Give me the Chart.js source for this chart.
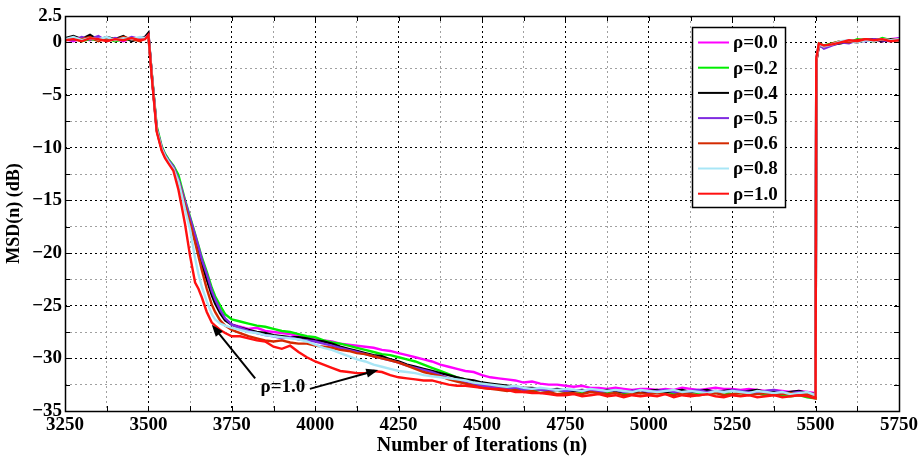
<!DOCTYPE html>
<html>
<head>
<meta charset="utf-8">
<script src="https://cdn.jsdelivr.net/npm/chart.js@4.4.1/dist/chart.umd.min.js"></script>
<style>
  html, body { margin: 0; padding: 0; background: #fff; }
  #wrap { width: 921px; height: 458px; }
</style>
</head>
<body>
<div id="wrap"><canvas id="msdChart" width="921" height="458"></canvas></div>
<script>
// iteration index for every sample (denser through the fast drop)
const iterations = [
  3250, 3275, 3300, 3325, 3350, 3375, 3400, 3425, 3450, 3475, 3490, 3500,
  3510, 3525, 3540, 3550, 3560, 3575, 3590, 3600, 3610, 3625, 3640, 3650, 3660, 3675, 3690, 3700, 3715, 3730, 3750,
  3775, 3800, 3825, 3850, 3875, 3900, 3925, 3950, 3975, 4000,
  4025, 4050, 4075, 4100, 4125, 4150, 4175, 4200, 4225, 4250,
  4275, 4300, 4325, 4350, 4375, 4400, 4425, 4450, 4475, 4500,
  4525, 4550, 4575, 4600, 4625, 4650, 4675, 4700, 4725, 4750,
  4775, 4800, 4825, 4850, 4875, 4900, 4925, 4950, 4975, 5000,
  5025, 5050, 5075, 5100, 5125, 5150, 5175, 5200, 5225, 5250,
  5275, 5300, 5325, 5350, 5375, 5400, 5425, 5450, 5475, 5500,
  5502, 5510, 5525, 5550, 5575, 5600, 5625, 5650, 5675, 5700, 5725, 5750
];

const seriesNames = ['ρ=0.0', 'ρ=0.2', 'ρ=0.4', 'ρ=0.5', 'ρ=0.6', 'ρ=0.8', 'ρ=1.0'];

const rho00 = [
  0.3, 0.1, 0.4, 0.2, 0.5, 0.2, 0.3, 0.1, 0.4, 0.3, 0.5, 0.8,
  -3.1, -8.2, -10.1, -10.8, -11.3, -11.9, -13.0, -14.2, -15.3, -16.9, -18.6, -19.7, -20.9, -22.4, -23.8, -24.6, -25.6, -26.3, -26.8,
  -27.0, -27.2, -27.1, -27.4, -27.5, -27.6, -27.7, -27.9, -28.0, -28.2,
  -28.3, -28.4, -28.6, -28.7, -28.8, -28.9, -29.0, -29.2, -29.3, -29.5,
  -29.7, -29.9, -30.1, -30.3, -30.6, -30.8, -31.0, -31.2, -31.3, -31.6,
  -31.8, -31.9, -32.0, -32.1, -32.3, -32.2, -32.4, -32.5, -32.5, -32.6,
  -32.7, -32.6, -32.8, -32.8, -32.9, -32.8, -32.9, -33.0, -32.9, -32.9,
  -33.0, -32.9, -33.0, -32.8, -32.9, -33.0, -32.9, -32.8, -32.9, -32.9,
  -33.0, -32.9, -33.0, -33.1, -33.0, -33.1, -33.2, -33.1, -33.2, -33.3,
  -1.6, -0.3, -0.4, -0.2, 0.0, 0.2, 0.1, 0.3, 0.2, 0.1, 0.3, 0.4
];
const rho02 = [
  0.2, 0.4, 0.1, 0.3, 0.2, 0.4, 0.1, 0.3, 0.2, 0.4, 0.4, 0.6,
  -2.9, -8.0, -9.9, -10.6, -11.1, -11.7, -12.6, -13.8, -15.0, -16.6, -18.2, -19.3, -20.4, -21.8, -23.3, -24.1, -25.0, -25.8, -26.3,
  -26.5, -26.7, -26.9, -27.0, -27.2, -27.4, -27.5, -27.7, -27.9, -28.0,
  -28.3, -28.5, -28.6, -28.8, -29.0, -29.2, -29.4, -29.6, -29.7, -29.9,
  -30.1, -30.3, -30.6, -30.9, -31.2, -31.5, -31.8, -32.0, -32.3, -32.5,
  -32.6, -32.7, -32.8, -32.9, -32.9, -33.0, -33.0, -33.1, -33.0, -33.2,
  -33.1, -33.2, -33.1, -33.3, -33.2, -33.1, -33.3, -33.2, -33.3, -33.2,
  -33.3, -33.2, -33.3, -33.4, -33.2, -33.3, -33.4, -33.3, -33.2, -33.4,
  -33.3, -33.4, -33.3, -33.5, -33.4, -33.5, -33.6, -33.5, -33.7, -33.8,
  -1.7, -0.1, -0.3, -0.1, 0.1, 0.0, 0.3, 0.2, 0.1, 0.4, 0.2, 0.3
];
const rho04 = [
  0.4, 0.6, 0.3, 0.7, 0.2, 0.5, 0.3, 0.6, 0.1, 0.4, 0.5, 0.9,
  -3.0, -8.3, -10.1, -10.8, -11.3, -11.9, -13.1, -14.2, -15.3, -16.9, -18.6, -19.8, -21.0, -22.5, -24.0, -24.8, -25.7, -26.4, -26.8,
  -27.1, -27.3, -27.5, -27.6, -27.8, -27.9, -28.0, -28.0, -28.1, -28.3,
  -28.4, -28.6, -28.9, -29.1, -29.3, -29.5, -29.7, -29.8, -30.1, -30.3,
  -30.6, -30.8, -31.0, -31.2, -31.4, -31.6, -31.8, -32.0, -32.1, -32.3,
  -32.4, -32.5, -32.6, -32.7, -32.8, -32.8, -32.9, -33.0, -32.9, -33.0,
  -33.1, -33.0, -33.1, -33.2, -33.0, -33.1, -33.2, -33.1, -33.3, -33.1,
  -33.0, -33.2, -33.1, -33.0, -33.2, -33.1, -33.0, -33.2, -33.1, -33.0,
  -33.2, -33.1, -33.0, -33.2, -33.1, -33.3, -33.2, -33.1, -33.3, -33.4,
  -1.8, -0.3, -0.5, -0.2, -0.1, 0.1, 0.0, 0.2, 0.3, 0.1, 0.3, 0.2
];
const rho05 = [
  0.3, 0.2, 0.5, 0.3, 0.6, 0.1, 0.4, 0.2, 0.5, 0.3, 0.4, 0.7,
  -3.0, -8.2, -10.0, -10.7, -11.2, -11.8, -13.0, -14.0, -15.1, -16.7, -18.3, -19.4, -20.6, -22.0, -23.6, -24.4, -25.4, -26.2, -26.8,
  -27.1, -27.4, -27.6, -27.8, -27.9, -28.1, -28.0, -28.2, -28.3, -28.4,
  -28.6, -28.8, -29.0, -29.2, -29.4, -29.6, -29.8, -30.0, -30.2, -30.4,
  -30.7, -30.9, -31.1, -31.3, -31.6, -31.9, -32.1, -32.3, -32.5, -32.6,
  -32.7, -32.8, -32.9, -32.8, -33.0, -32.9, -33.0, -33.1, -33.0, -33.1,
  -33.0, -33.1, -33.0, -33.2, -33.1, -33.0, -33.2, -33.1, -33.0, -33.2,
  -33.1, -33.0, -33.2, -33.3, -33.1, -33.0, -33.2, -33.1, -33.2, -33.0,
  -33.1, -33.2, -33.3, -33.1, -33.0, -33.2, -33.3, -33.2, -33.4, -33.5,
  -1.7, -0.2, -0.6, -0.3, 0.0, -0.1, 0.2, 0.1, 0.3, 0.2, 0.1, 0.4
];
const rho06 = [
  0.2, 0.4, 0.3, 0.5, 0.1, 0.4, 0.2, 0.5, 0.3, 0.1, 0.4, 0.5,
  -3.1, -8.4, -10.2, -10.9, -11.4, -12.0, -13.2, -14.3, -15.5, -17.2, -19.0, -20.3, -21.6, -23.4, -24.9, -25.6, -26.4, -26.9, -27.3,
  -27.6, -27.9, -28.1, -28.3, -28.4, -28.3, -28.5, -28.6, -28.6, -28.8,
  -28.9, -29.0, -29.2, -29.3, -29.5, -29.6, -29.8, -30.0, -30.2, -30.4,
  -30.7, -31.0, -31.3, -31.5, -31.7, -32.0, -32.2, -32.4, -32.6, -32.8,
  -32.9, -33.0, -33.1, -33.0, -33.2, -33.1, -33.3, -33.2, -33.4, -33.3,
  -33.3, -33.4, -33.2, -33.3, -33.4, -33.3, -33.5, -33.4, -33.3, -33.4,
  -33.3, -33.4, -33.5, -33.3, -33.4, -33.5, -33.4, -33.3, -33.5, -33.4,
  -33.3, -33.5, -33.4, -33.3, -33.5, -33.4, -33.3, -33.5, -33.4, -33.6,
  -1.9, -0.2, -0.4, -0.1, 0.1, 0.0, 0.2, 0.3, 0.1, 0.3, 0.2, 0.3
];
const rho08 = [
  0.3, 0.5, 0.2, 0.4, 0.3, 0.5, 0.2, 0.4, 0.3, 0.5, 0.4, 0.6,
  -3.0, -8.3, -10.1, -10.8, -11.3, -12.0, -13.2, -14.5, -15.9, -17.8, -20.5, -22.0, -23.2, -24.6, -25.8, -26.3, -26.7, -26.9, -27.1,
  -27.3, -27.5, -27.6, -27.8, -27.9, -28.0, -28.1, -28.2, -28.4, -28.7,
  -29.0, -29.2, -29.5, -29.8, -30.1, -30.3, -30.6, -30.8, -31.0, -31.2,
  -31.3, -31.4, -31.6, -31.7, -31.8, -31.9, -32.0, -32.1, -32.3, -32.4,
  -32.5, -32.6, -32.7, -32.6, -32.8, -32.9, -32.8, -32.9, -33.0, -32.9,
  -33.0, -33.1, -32.9, -33.0, -33.1, -33.0, -33.1, -33.2, -33.0, -33.1,
  -33.2, -33.1, -33.0, -33.2, -33.1, -33.2, -33.3, -33.1, -33.2, -33.1,
  -33.2, -33.3, -33.1, -33.2, -33.3, -33.2, -33.4, -33.3, -33.2, -33.5,
  -1.6, -0.2, -0.4, -0.2, 0.1, 0.2, 0.0, 0.2, 0.1, 0.3, 0.2, 0.3
];
const rho10 = [
  0.2, 0.3, 0.1, 0.4, 0.3, 0.1, 0.3, 0.2, 0.4, 0.2, 0.3, 0.7,
  -3.2, -8.5, -10.3, -11.0, -11.5, -12.2, -14.0, -15.6, -17.3, -20.3, -22.8, -23.4, -24.2, -25.6, -26.6, -26.9, -27.3, -27.6, -27.9,
  -27.9, -28.1, -28.3, -28.4, -28.9, -29.1, -28.8, -29.4, -29.9, -30.3,
  -30.6, -30.9, -31.2, -31.3, -31.4, -31.4, -31.2, -31.3, -31.6, -31.8,
  -31.9, -32.0, -32.1, -32.1, -32.3, -32.5, -32.6, -32.6, -32.7, -32.8,
  -32.9, -32.9, -33.0, -33.2, -33.2, -33.3, -33.3, -33.4, -33.5, -33.5,
  -33.4, -33.6, -33.5, -33.4, -33.6, -33.5, -33.7, -33.5, -33.6, -33.5,
  -33.6, -33.4, -33.7, -33.5, -33.6, -33.5, -33.4, -33.6, -33.7, -33.5,
  -33.6, -33.5, -33.7, -33.6, -33.5, -33.7, -33.6, -33.5, -33.6, -33.8,
  -1.5, -0.1, -0.3, -0.2, 0.0, 0.2, 0.1, 0.3, 0.2, 0.3, 0.1, 0.2
];

const seriesValues = [rho00, rho02, rho04, rho05, rho06, rho08, rho10];
const seriesColors = ['#ff00ff', '#00ee00', '#000000', '#7f2be0', '#d42a00', '#a8e6f6', '#ff1010'];

// x ticks every 125 (labels every 250), y ticks every 2.5 (labels every 5 + top)
const xMin = 3250, xMax = 5750, xStep = 125;
const yMin = -35, yMax = 2.5, yStep = 2.5;

// "ρ=1.0" note: text position and the two arrows, in data units
const noteLabel = 'ρ=1.0';
const noteAt = [3903, -32.7];
const noteArrows = [
  { from: [3820, -31.9], to: [3690, -26.8] },
  { from: [3984, -32.9], to: [4189, -31.1] }
];

const serif = '"Liberation Serif", "Times New Roman", serif';

const datasets = seriesValues.map((vals, k) => ({
  label: seriesNames[k],
  data: iterations.map((it, i) => ({ x: it, y: vals[i] })),
  borderColor: seriesColors[k],
  backgroundColor: seriesColors[k],
  borderWidth: 2.4,
  pointRadius: 0,
  tension: 0,
  order: seriesValues.length - k   // red last in list -> drawn on top
}));

function minus(v) {
  return String(v).replace('-', '\u2212');
}

const framePlugin = {
  id: 'frame',
  afterDatasetsDraw(chart) {
    const { ctx, chartArea: a, scales: { x, y } } = chart;
    ctx.save();
    ctx.strokeStyle = '#000';
    ctx.lineWidth = 1;
    ctx.beginPath();
    x.ticks.forEach(t => {
      const px = Math.round(x.getPixelForValue(t.value)) + 0.5;
      ctx.moveTo(px, a.bottom); ctx.lineTo(px, a.bottom - 5);
      ctx.moveTo(px, a.top); ctx.lineTo(px, a.top + 5);
    });
    y.ticks.forEach(t => {
      const py = Math.round(y.getPixelForValue(t.value)) + 0.5;
      ctx.moveTo(a.left, py); ctx.lineTo(a.left + 5, py);
      ctx.moveTo(a.right, py); ctx.lineTo(a.right - 5, py);
    });
    ctx.stroke();
    ctx.lineWidth = 1.5;
    ctx.strokeRect(Math.round(a.left) + 0.5, Math.round(a.top) + 0.5,
                   Math.round(a.right - a.left), Math.round(a.bottom - a.top));
    ctx.restore();
  },
  afterDraw(chart) {
    const { ctx, scales: { x, y } } = chart;
    ctx.save();

    // legend box
    const bx = 692, by = 27, bw = 93, bh = 180;
    ctx.fillStyle = '#fff';
    ctx.fillRect(bx, by, bw, bh);
    ctx.strokeStyle = '#000';
    ctx.lineWidth = 1.5;
    ctx.strokeRect(bx + 0.5, by + 0.5, bw, bh);
    ctx.font = 'bold 19px ' + serif;
    ctx.textBaseline = 'middle';
    ctx.textAlign = 'left';
    seriesNames.forEach((name, k) => {
      const ry = 42.5 + k * 25.2;
      ctx.strokeStyle = seriesColors[k];
      ctx.lineWidth = 2;
      ctx.beginPath();
      ctx.moveTo(698, ry); ctx.lineTo(729, ry);
      ctx.stroke();
      ctx.fillStyle = '#000';
      ctx.fillText(name, 733, ry + 1);
    });

    // annotation
    ctx.fillStyle = '#000';
    ctx.textAlign = 'center';
    ctx.fillText(noteLabel, x.getPixelForValue(noteAt[0]), y.getPixelForValue(noteAt[1]));
    noteArrows.forEach(arw => {
      const x0 = x.getPixelForValue(arw.from[0]), y0 = y.getPixelForValue(arw.from[1]);
      const x1 = x.getPixelForValue(arw.to[0]), y1 = y.getPixelForValue(arw.to[1]);
      const ang = Math.atan2(y1 - y0, x1 - x0);
      const hl = 12, hw = 4.5;
      ctx.strokeStyle = '#000';
      ctx.lineWidth = 2;
      ctx.beginPath();
      ctx.moveTo(x0, y0);
      ctx.lineTo(x1 - Math.cos(ang) * hl * 0.8, y1 - Math.sin(ang) * hl * 0.8);
      ctx.stroke();
      ctx.beginPath();
      ctx.moveTo(x1, y1);
      ctx.lineTo(x1 - Math.cos(ang) * hl + Math.sin(ang) * hw, y1 - Math.sin(ang) * hl - Math.cos(ang) * hw);
      ctx.lineTo(x1 - Math.cos(ang) * hl - Math.sin(ang) * hw, y1 - Math.sin(ang) * hl + Math.cos(ang) * hw);
      ctx.closePath();
      ctx.fill();
    });
    ctx.restore();
  }
};

const ctx = document.getElementById('msdChart').getContext('2d');
const msdChart = new Chart(ctx, {
  type: 'line',
  data: { datasets: datasets },
  plugins: [framePlugin],
  options: {
    responsive: false,
    animation: false,
    devicePixelRatio: 1,
    layout: { padding: { left: 0, right: 22, top: 16, bottom: 0 } },
    plugins: {
      legend: { display: false },
      tooltip: { enabled: false }
    },
    scales: {
      x: {
        type: 'linear',
        min: xMin,
        max: xMax,
        afterFit: s => { s.height = 47; },
        ticks: {
          stepSize: xStep,
          autoSkip: false,
          maxRotation: 0,
          padding: 3,
          color: '#000',
          font: { family: serif, size: 19, weight: 'bold' },
          callback: v => (v % 250 === 0 ? String(v) : '')
        },
        grid: {
          drawTicks: false,
          lineWidth: 1,
          color: c => (c.tick && c.tick.value % 250 === 0 ? '#000' : '#a0a0a0')
        },
        border: { display: false, dash: [2, 3] },
        title: {
          display: true,
          text: 'Number of Iterations (n)',
          color: '#000',
          padding: { top: 0, bottom: 0 },
          font: { family: serif, size: 20, weight: 'bold' }
        }
      },
      y: {
        type: 'linear',
        min: yMin,
        max: yMax,
        afterFit: s => { s.width = 65; },
        ticks: {
          stepSize: yStep,
          autoSkip: false,
          padding: 3,
          color: '#000',
          font: { family: serif, size: 19, weight: 'bold' },
          callback: v => (v === 2.5 || v % 5 === 0 ? minus(v) : '')
        },
        grid: {
          drawTicks: false,
          lineWidth: 1,
          color: c => (c.tick && (c.tick.value % 5 === 0) ? '#000' : '#a0a0a0')
        },
        border: { display: false, dash: [2, 3] },
        title: {
          display: true,
          text: 'MSD(n) (dB)',
          color: '#000',
          padding: { top: 4, bottom: 0 },
          font: { family: serif, size: 18, weight: 'bold' }
        }
      }
    }
  }
});
</script>
</body>
</html>
